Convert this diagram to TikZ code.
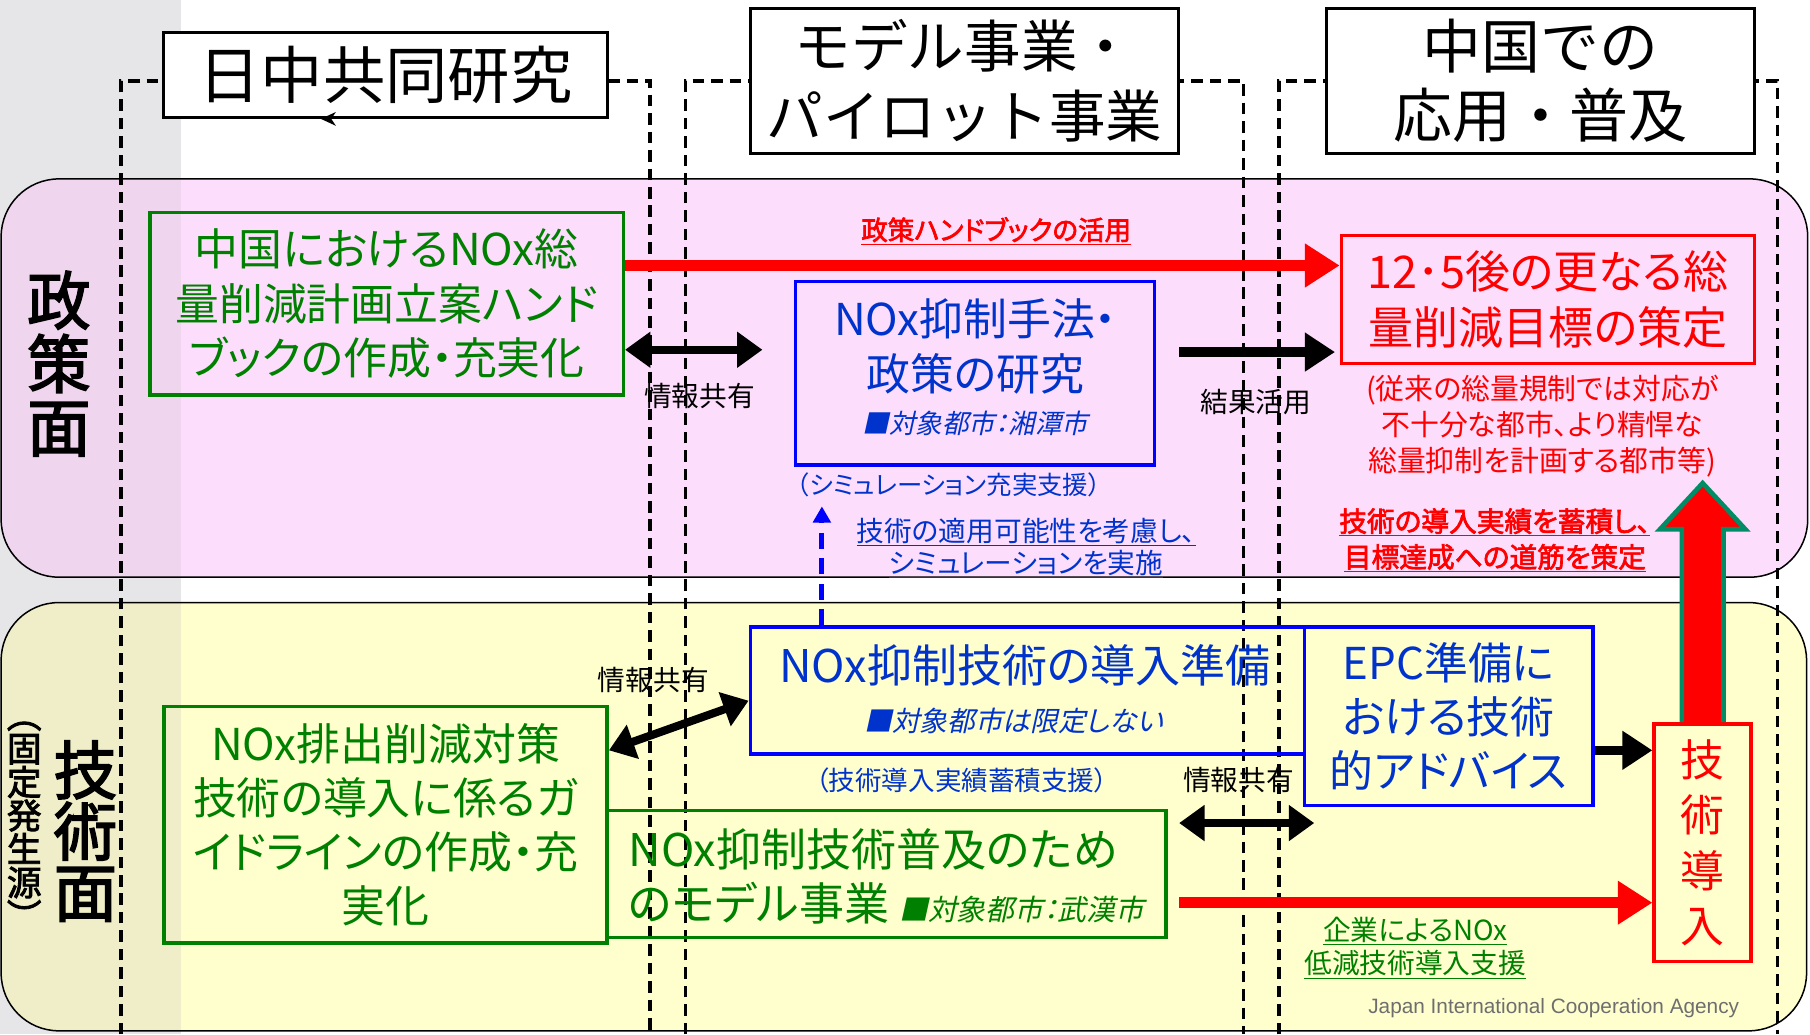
\documentclass[tikz,border=0pt]{standalone}
\usepackage{fontspec}
\setmainfont{Noto Sans CJK JP}[RawFeature=+palt,AutoFakeSlant=0.22,AutoFakeBold=2.5]
\newfontfamily\hdrfont{Noto Sans CJK JP}
\newfontfamily\jicafont{Liberation Sans}
\usetikzlibrary{arrows.meta,calc}
\definecolor{pinkband}{RGB}{253,221,252}
\definecolor{pinkdark}{RGB}{240,213,239}
\definecolor{yelband}{RGB}{255,255,206}
\definecolor{yeldark}{RGB}{240,238,200}
\definecolor{leftgray}{RGB}{230,230,233}
\definecolor{jgreen}{RGB}{0,128,0}
\definecolor{jblue}{RGB}{0,0,255}
\definecolor{jbluetext}{RGB}{0,51,204}
\definecolor{jred}{RGB}{255,0,0}
\definecolor{tealout}{RGB}{0,140,100}
\definecolor{jicagray}{RGB}{110,110,110}
\tikzset{
 hdr/.style={draw=black, line width=2.5pt, fill=white, inner sep=0pt, align=center},
 gbox/.style={draw=jgreen, line width=3pt, text=jgreen, inner sep=0pt, align=center},
 bbox/.style={draw=jblue, line width=3pt, text=jbluetext, inner sep=0pt, align=center},
 rbox/.style={draw=jred, line width=3pt, text=jred, inner sep=0pt, align=center},
 colline/.style={dash pattern=on 10pt off 6pt, line width=3pt},
 dbl/.style={line width=7pt, {Triangle[length=22pt,width=30pt]}-{Triangle[length=22pt,width=30pt]}},
 blk/.style={line width=8pt, -{Triangle[length=26pt,width=32pt]}},
 redarr/.style={draw=jred, line width=10pt, -{Triangle[length=30pt,width=36pt]}, color=jred},
 lbl/.style={inner sep=0pt, align=center},
 f24/.style={font=\fontsize{24}{28}\selectfont},
}
\begin{document}
\begin{tikzpicture}[x=1pt,y=-1pt]
\useasboundingbox (0,0) rectangle (1568,896);
\fill[white] (0,0) rectangle (1568,896);
\fill[leftgray] (0,0) rectangle (157,896);
% bands
\begin{scope}
\clip[rounded corners=50pt] (1,155) rectangle (1566,500);
\fill[pinkband] (0,150) rectangle (1568,505);
\fill[pinkdark] (0,150) rectangle (157,505);
\end{scope}
\draw[line width=1.3pt, rounded corners=50pt] (1,155) rectangle (1566,500);
\begin{scope}
\clip[rounded corners=50pt] (1,522) rectangle (1565,893);
\fill[yelband] (0,515) rectangle (1568,896);
\fill[yeldark] (0,515) rectangle (157,896);
\end{scope}
\draw[line width=1.3pt, rounded corners=50pt] (1,522) rectangle (1565,893);
% column frames
\draw[colline] (105,896) -- (105,70) -- (563,70) -- (563,896);
\draw[colline] (594,896) -- (594,70) -- (1077,70) -- (1077,896);
\draw[colline] (1108,896) -- (1108,70) -- (1540,70) -- (1540,896);
% headers
\node[hdr, minimum width=384pt, minimum height=74pt, font=\hdrfont\fontsize{54}{60}\selectfont] (hdr1) at (334,65) {日中共同研究};
\fill (278,103) -- (291,97) -- (287,103) -- (291,109) -- cycle;
\node[hdr, minimum width=371pt, minimum height=126pt, font=\hdrfont\fontsize{49}{60}\selectfont] (hdr2) at (835.5,70) {モデル事業・\\パイロット事業};
\node[hdr, minimum width=371pt, minimum height=126pt, font=\hdrfont\fontsize{51}{60}\selectfont] (hdr3) at (1334.5,70) {中国での\\応用・普及};
% side labels
\node[lbl, font=\bfseries\fontsize{55}{55}\selectfont] (seisaku) at (51,315) {政\\策\\面};
\node[lbl, font=\bfseries\fontsize{55}{53}\selectfont] (gijutsu) at (74,720) {技\\術\\面};
\node[lbl, font=\bfseries\fontsize{30}{29}\selectfont] (kotei) at (21,715) {︵\\固\\定\\発\\生\\源\\︶};
% policy boxes
\node[gbox, minimum width=410pt, minimum height=158pt, font=\fontsize{38}{47}\selectfont] (pol_g) at (335,263) {中国におけるNOx総\\量削減計画立案ハンド\\ブックの作成・充実化};
\node[bbox, minimum width=311pt, minimum height=159pt] (pol_b) at (844.5,323.5) {};
\node[lbl, text=jbluetext, font=\fontsize{38}{47}\selectfont] (pol_b_t) at (845,300) {NOx抑制手法・\\政策の研究};
\node[lbl, text=jbluetext, font=\itshape\fontsize{23}{23}\selectfont] (pol_b_c) at (845,367) {■対象都市：湘潭市};
\node[rbox, minimum width=358pt, minimum height=111pt, font=\fontsize{39}{48}\selectfont] (pol_r) at (1341,259.5) {12･5後の更なる総\\量削減目標の策定};
\node[lbl, text=jbluetext, font=\fontsize{22}{26}\selectfont] (pol_sub) at (822,420) {（シミュレーション充実支援）};
\node[lbl, text=jred, font=\fontsize{25}{31}\selectfont] (red_sub) at (1336,369) {(従来の総量規制では対応が\\不十分な都市、より精悍な\\総量抑制を計画する都市等)};
% tech boxes
\node[gbox, minimum width=384pt, minimum height=205pt, font=\fontsize{38}{47}\selectfont] (tec_g1) at (334,714.5) {NOx排出削減対策\\技術の導入に係るガ\\イドラインの作成・充\\実化};
\node[gbox, minimum width=484pt, minimum height=110pt] (tec_g2) at (768,757) {};
\node[lbl, align=left, text=jgreen, font=\fontsize{39}{47}\selectfont] (tec_g2_t) at (768,759.5) {NOx抑制技術普及のため\\のモデル事業 {\itshape\fontsize{25}{25}\selectfont ■対象都市：武漢市}};
\node[bbox, minimum width=480pt, minimum height=110pt] (tec_b1) at (890,598) {};
\node[lbl, text=jbluetext, font=\fontsize{39}{47}\selectfont] (tec_b1_t) at (888,576) {NOx抑制技術の導入準備};
\node[lbl, text=jbluetext, font=\itshape\fontsize{24}{24}\selectfont] (tec_b1_c) at (878,625) {■対象都市は限定しない};
\node[lbl, text=jbluetext, font=\fontsize{23}{26}\selectfont] (tec_sub) at (833,676) {（技術導入実績蓄積支援）};
\node[bbox, minimum width=250pt, minimum height=155pt, font=\fontsize{38}{47}\selectfont] (tec_epc) at (1255,620.5) {EPC準備に\\おける技術\\的アドバイス};
\node[rbox, minimum width=84pt, minimum height=206pt, font=\fontsize{38}{48}\selectfont] (tec_r) at (1475,730) {技\\術\\導\\入};
% labels
\node[lbl, text=jred, font=\bfseries\fontsize{23}{26}\selectfont] (lbl_hand) at (863,200) {\underline{政策ハンドブックの活用}};
\node[lbl, f24] (lbl_info1) at (606,343) {情報共有};
\node[lbl, f24] (lbl_res) at (1088,348) {結果活用};
\node[lbl, text=jbluetext, font=\fontsize{24}{28}\selectfont] (lbl_sim) at (889,475) {\underline{技術の適用可能性を考慮し、}\\\underline{シミュレーションを実施}};
\node[lbl, text=jred, font=\bfseries\fontsize{24}{31}\selectfont] (lbl_acc) at (1295,468) {\underline{技術の導入実績を蓄積し、}\\\underline{目標達成への道筋を策定}};
\node[lbl, f24] (lbl_info2) at (566,589) {情報共有};
\node[lbl, f24] (lbl_info3) at (1073,676) {情報共有};
\node[lbl, text=jgreen, font=\fontsize{24}{29}\selectfont] (lbl_corp) at (1226,821) {\underline{企業によるNOx}\\\underline{低減技術導入支援}};
\node[lbl, text=jicagray, font=\jicafont\fontsize{18}{18}\selectfont] (jica) at (1346,873) {Japan International Cooperation Agency};
% connectors
\draw[redarr] (pol_g.east |- 0,230) -- (pol_r.west |- 0,230);
\draw[dbl, shorten >=27pt] (pol_g.east |- 0,303) -- (pol_b.west |- 0,303);
\draw[blk, shorten <=20pt, shorten >=4pt] (pol_b.east |- 0,305) -- (pol_r.west |- 0,305);
\draw[jblue, line width=4.5pt, dash pattern=on 14pt off 8pt, -{Triangle[length=14pt,width=15pt]}] (tec_b1.north -| 712,0) -- (pol_sub.south -| 712,0) [shorten >=8pt];
\draw[dbl] (tec_g1.east |- 0,650) -- (tec_b1.west |- 0,607);
\draw[dbl, shorten <=10pt] (tec_g2.east |- 0,713) -- ($(tec_epc.west |- 0,713)+(10,0)$);
\draw[blk, line width=8pt] (tec_epc.east |- 0,650) -- (tec_r.west |- 0,650);
\draw[redarr, shorten <=10pt] (tec_g2.east |- 0,782) -- (tec_r.west |- 0,782);
\draw[draw=tealout, line width=4pt, fill=jred, line join=miter]
  ($(tec_r.north)+(-18,0)$) -- ($(tec_r.north)+(-18,-167)$) -- ($(tec_r.north)+(-37,-167)$)
  -- ($(tec_r.north)+(0,-207)$) -- ($(tec_r.north)+(37,-167)$) -- ($(tec_r.north)+(18,-167)$)
  -- ($(tec_r.north)+(18,0)$);
\end{tikzpicture}
\end{document}
